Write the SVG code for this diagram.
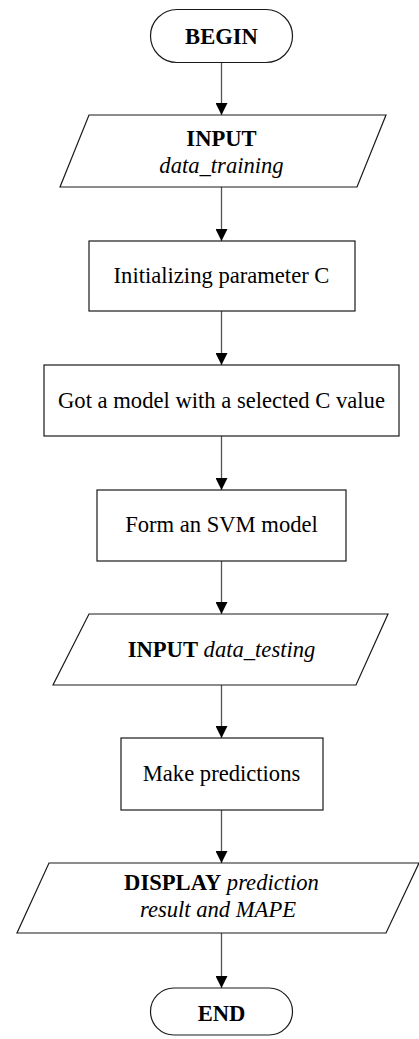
<svg xmlns="http://www.w3.org/2000/svg" width="419" height="1039" viewBox="0 0 419 1039">
<style>
.shape{fill:#fff;stroke:#1a1a1a;stroke-width:1.2}
.t{font-family:"Liberation Serif","Times New Roman",serif;font-size:22.6px;fill:#000;text-anchor:middle}
.b{font-weight:bold}
.i{font-style:italic}
.conn{stroke:#555;stroke-width:1.3;fill:none;marker-end:url(#ah)}
</style>
<defs>
<marker id="ah" markerUnits="userSpaceOnUse" markerWidth="12" markerHeight="12" refX="12" refY="6" orient="auto">
<path d="M0,0 L12,6 L0,12 Z" fill="#000"/>
</marker>
</defs>
<rect width="419" height="1039" fill="#fff"/>
<g id="connectors">
<line class="conn" x1="221.5" y1="63" x2="221.5" y2="115"/>
<line class="conn" x1="221.5" y1="187" x2="221.5" y2="241"/>
<line class="conn" x1="221.5" y1="311" x2="221.5" y2="365"/>
<line class="conn" x1="221.5" y1="436" x2="221.5" y2="490"/>
<line class="conn" x1="221.5" y1="561" x2="221.5" y2="614"/>
<line class="conn" x1="221.5" y1="685" x2="221.5" y2="738"/>
<line class="conn" x1="221.5" y1="810" x2="221.5" y2="863"/>
<line class="conn" x1="221.5" y1="933" x2="221.5" y2="988"/>
</g>
<g id="begin">
<rect class="shape" x="150.5" y="9.5" width="142" height="53" rx="26.5" ry="26.5"/>
<text class="t b" x="221.5" y="43.5">BEGIN</text>
</g>
<g id="input-training">
<polygon class="shape" points="89,115 386,115 357,187 60,187"/>
<text class="t b" x="221.5" y="145.5">INPUT</text>
<text class="t i" x="221.5" y="173">data_training</text>
</g>
<g id="init-c">
<rect class="shape" x="89" y="241" width="266" height="70"/>
<text class="t" x="221.5" y="283">Initializing parameter C</text>
</g>
<g id="got-model">
<rect class="shape" x="44" y="365" width="355" height="71"/>
<text class="t" x="221.5" y="408">Got a model with a selected C value</text>
</g>
<g id="form-svm">
<rect class="shape" x="97" y="490" width="249" height="71"/>
<text class="t" x="221.5" y="532">Form an SVM model</text>
</g>
<g id="input-testing">
<polygon class="shape" points="89,614 388,614 356,685 53,685"/>
<text class="t" x="221.5" y="657"><tspan class="b">INPUT</tspan> <tspan class="i">data_testing</tspan></text>
</g>
<g id="predict">
<rect class="shape" x="121" y="738" width="202" height="72"/>
<text class="t" x="221.5" y="781">Make predictions</text>
</g>
<g id="display">
<polygon class="shape" points="49,863 419,863 386,933 17,933"/>
<text class="t" x="221.5" y="890"><tspan class="b">DISPLAY</tspan> <tspan class="i">prediction</tspan></text>
<text class="t i" x="218" y="917">result and MAPE</text>
</g>
<g id="end">
<rect class="shape" x="150.5" y="988" width="142" height="47" rx="23.5" ry="23.5"/>
<text class="t b" x="221.5" y="1021">END</text>
</g>
</svg>
